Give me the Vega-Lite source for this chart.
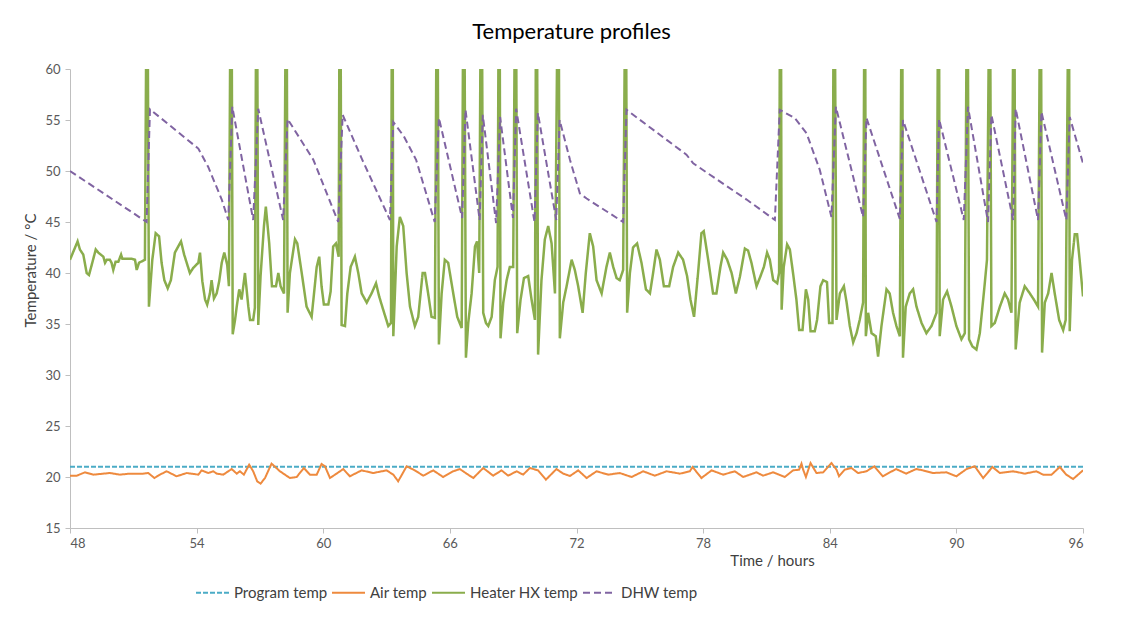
{
  "$schema": "https://vega.github.io/schema/vega-lite/v6.json",
  "autosize": "none",
  "width": 1013,
  "height": 459,
  "padding": {"left": 70, "top": 69, "right": 51, "bottom": 105},
  "background": "white",
  "config": {
    "view": {"stroke": null},
    "font": "Lato",
    "axis": {"labelFont": "Lato", "titleFont": "Lato", "labelColor": "#595959", "titleColor": "#404040", "domainColor": "#bfbfbf", "tickColor": "#bfbfbf", "grid": false, "labelFontSize": 13, "titleFontSize": 15, "titleFontWeight": "normal", "tickSize": 5},
    "legend": {"labelFont": "Lato", "labelFontSize": 15, "labelColor": "#404040"}
  },
  "title": {"text": "Temperature profiles", "fontSize": 22, "fontWeight": "normal", "font": "Lato", "color": "#000000", "anchor": "middle", "offset": 19, "dx": -5},
  "datasets": {
    "program": [
      {"s": "Program temp", "h": 48, "t": 21},
      {"s": "Program temp", "h": 96, "t": 21}
    ],
    "air": [
      {"s":"Air temp","h":48.00,"t":20.13},{"s":"Air temp","h":48.32,"t":20.13},{"s":"Air temp","h":48.71,"t":20.46},{"s":"Air temp","h":49.10,"t":20.23},{"s":"Air temp","h":49.89,"t":20.39},{"s":"Air temp","h":50.37,"t":20.23},{"s":"Air temp","h":50.84,"t":20.33},{"s":"Air temp","h":51.47,"t":20.33},{"s":"Air temp","h":51.71,"t":20.39},{"s":"Air temp","h":52.00,"t":19.90},{"s":"Air temp","h":52.26,"t":20.23},{"s":"Air temp","h":52.58,"t":20.56},{"s":"Air temp","h":53.05,"t":20.07},{"s":"Air temp","h":53.53,"t":20.39},{"s":"Air temp","h":54.08,"t":20.23},{"s":"Air temp","h":54.24,"t":20.65},{"s":"Air temp","h":54.55,"t":20.39},{"s":"Air temp","h":54.79,"t":20.56},{"s":"Air temp","h":54.95,"t":20.33},{"s":"Air temp","h":55.26,"t":20.23},{"s":"Air temp","h":55.66,"t":20.78},{"s":"Air temp","h":55.90,"t":20.33},{"s":"Air temp","h":56.05,"t":20.56},{"s":"Air temp","h":56.24,"t":20.23},{"s":"Air temp","h":56.49,"t":21.21},{"s":"Air temp","h":56.68,"t":20.56},{"s":"Air temp","h":56.87,"t":19.58},{"s":"Air temp","h":57.03,"t":19.35},{"s":"Air temp","h":57.24,"t":19.90},{"s":"Air temp","h":57.55,"t":21.31},{"s":"Air temp","h":57.95,"t":20.56},{"s":"Air temp","h":58.42,"t":19.90},{"s":"Air temp","h":58.74,"t":20.00},{"s":"Air temp","h":59.08,"t":20.88},{"s":"Air temp","h":59.37,"t":20.23},{"s":"Air temp","h":59.69,"t":20.23},{"s":"Air temp","h":59.92,"t":21.27},{"s":"Air temp","h":60.08,"t":21.05},{"s":"Air temp","h":60.32,"t":19.90},{"s":"Air temp","h":60.63,"t":20.33},{"s":"Air temp","h":60.95,"t":20.78},{"s":"Air temp","h":61.26,"t":20.07},{"s":"Air temp","h":61.82,"t":20.65},{"s":"Air temp","h":62.37,"t":20.39},{"s":"Air temp","h":63.00,"t":20.65},{"s":"Air temp","h":63.32,"t":20.23},{"s":"Air temp","h":63.55,"t":19.58},{"s":"Air temp","h":63.95,"t":21.05},{"s":"Air temp","h":64.34,"t":20.65},{"s":"Air temp","h":64.74,"t":20.13},{"s":"Air temp","h":65.21,"t":20.65},{"s":"Air temp","h":65.68,"t":20.00},{"s":"Air temp","h":66.16,"t":20.56},{"s":"Air temp","h":66.47,"t":20.78},{"s":"Air temp","h":66.63,"t":20.56},{"s":"Air temp","h":66.79,"t":20.33},{"s":"Air temp","h":67.11,"t":19.90},{"s":"Air temp","h":67.58,"t":20.88},{"s":"Air temp","h":68.05,"t":20.13},{"s":"Air temp","h":68.45,"t":20.65},{"s":"Air temp","h":68.76,"t":20.13},{"s":"Air temp","h":69.16,"t":20.56},{"s":"Air temp","h":69.47,"t":20.23},{"s":"Air temp","h":69.79,"t":20.88},{"s":"Air temp","h":70.18,"t":20.65},{"s":"Air temp","h":70.55,"t":19.74},{"s":"Air temp","h":71.05,"t":20.78},{"s":"Air temp","h":71.37,"t":20.33},{"s":"Air temp","h":71.69,"t":20.10},{"s":"Air temp","h":72.08,"t":20.65},{"s":"Air temp","h":72.48,"t":19.90},{"s":"Air temp","h":72.95,"t":20.56},{"s":"Air temp","h":73.50,"t":20.23},{"s":"Air temp","h":74.05,"t":20.39},{"s":"Air temp","h":74.61,"t":20.00},{"s":"Air temp","h":75.16,"t":20.56},{"s":"Air temp","h":75.71,"t":20.13},{"s":"Air temp","h":76.27,"t":20.56},{"s":"Air temp","h":76.90,"t":20.33},{"s":"Air temp","h":77.37,"t":20.56},{"s":"Air temp","h":77.50,"t":20.98},{"s":"Air temp","h":77.92,"t":19.90},{"s":"Air temp","h":78.40,"t":20.65},{"s":"Air temp","h":78.95,"t":20.23},{"s":"Air temp","h":79.50,"t":20.56},{"s":"Air temp","h":79.90,"t":20.00},{"s":"Air temp","h":80.53,"t":20.46},{"s":"Air temp","h":80.84,"t":20.13},{"s":"Air temp","h":81.32,"t":20.46},{"s":"Air temp","h":81.87,"t":20.00},{"s":"Air temp","h":82.26,"t":20.65},{"s":"Air temp","h":82.55,"t":20.72},{"s":"Air temp","h":82.66,"t":21.31},{"s":"Air temp","h":82.74,"t":20.72},{"s":"Air temp","h":82.87,"t":20.00},{"s":"Air temp","h":83.09,"t":21.37},{"s":"Air temp","h":83.37,"t":20.39},{"s":"Air temp","h":83.69,"t":20.46},{"s":"Air temp","h":84.08,"t":21.37},{"s":"Air temp","h":84.32,"t":20.72},{"s":"Air temp","h":84.44,"t":20.07},{"s":"Air temp","h":84.71,"t":20.72},{"s":"Air temp","h":85.03,"t":20.88},{"s":"Air temp","h":85.34,"t":20.39},{"s":"Air temp","h":85.74,"t":20.56},{"s":"Air temp","h":86.11,"t":21.05},{"s":"Air temp","h":86.51,"t":20.07},{"s":"Air temp","h":87.14,"t":20.78},{"s":"Air temp","h":87.62,"t":20.33},{"s":"Air temp","h":88.09,"t":20.78},{"s":"Air temp","h":88.42,"t":20.65},{"s":"Air temp","h":88.88,"t":20.39},{"s":"Air temp","h":89.53,"t":20.46},{"s":"Air temp","h":90.00,"t":20.07},{"s":"Air temp","h":90.48,"t":20.78},{"s":"Air temp","h":90.87,"t":21.05},{"s":"Air temp","h":91.27,"t":19.90},{"s":"Air temp","h":91.71,"t":20.98},{"s":"Air temp","h":92.06,"t":20.39},{"s":"Air temp","h":92.69,"t":20.56},{"s":"Air temp","h":93.24,"t":20.33},{"s":"Air temp","h":93.79,"t":20.56},{"s":"Air temp","h":94.11,"t":20.23},{"s":"Air temp","h":94.51,"t":20.23},{"s":"Air temp","h":94.90,"t":20.98},{"s":"Air temp","h":95.21,"t":20.23},{"s":"Air temp","h":95.53,"t":19.80},{"s":"Air temp","h":96.00,"t":20.65}
    ],
    "heater": [
      {"s":"Heater HX temp","h":48.00,"t":41.3},{"s":"Heater HX temp","h":48.16,"t":42.1},{"s":"Heater HX temp","h":48.36,"t":43.1},{"s":"Heater HX temp","h":48.47,"t":42.3},{"s":"Heater HX temp","h":48.63,"t":41.8},{"s":"Heater HX temp","h":48.79,"t":40.0},{"s":"Heater HX temp","h":48.90,"t":39.8},{"s":"Heater HX temp","h":49.03,"t":40.8},{"s":"Heater HX temp","h":49.22,"t":42.3},{"s":"Heater HX temp","h":49.34,"t":42.0},{"s":"Heater HX temp","h":49.58,"t":41.6},{"s":"Heater HX temp","h":49.66,"t":41.0},{"s":"Heater HX temp","h":49.74,"t":41.3},{"s":"Heater HX temp","h":49.89,"t":41.3},{"s":"Heater HX temp","h":49.97,"t":41.0},{"s":"Heater HX temp","h":50.05,"t":40.3},{"s":"Heater HX temp","h":50.16,"t":41.1},{"s":"Heater HX temp","h":50.29,"t":41.1},{"s":"Heater HX temp","h":50.42,"t":41.8},{"s":"Heater HX temp","h":50.48,"t":41.4},{"s":"Heater HX temp","h":50.92,"t":41.4},{"s":"Heater HX temp","h":51.08,"t":41.3},{"s":"Heater HX temp","h":51.16,"t":40.3},{"s":"Heater HX temp","h":51.27,"t":41.0},{"s":"Heater HX temp","h":51.55,"t":41.3},{"s":"Heater HX temp","h":51.62,"t":66},{"s":"Heater HX temp","h":51.68,"t":66},{"s":"Heater HX temp","h":51.74,"t":36.7},{"s":"Heater HX temp","h":51.90,"t":41.3},{"s":"Heater HX temp","h":52.06,"t":43.9},{"s":"Heater HX temp","h":52.22,"t":43.6},{"s":"Heater HX temp","h":52.34,"t":41.0},{"s":"Heater HX temp","h":52.47,"t":39.3},{"s":"Heater HX temp","h":52.63,"t":38.5},{"s":"Heater HX temp","h":52.78,"t":39.3},{"s":"Heater HX temp","h":52.97,"t":42.0},{"s":"Heater HX temp","h":53.26,"t":43.1},{"s":"Heater HX temp","h":53.41,"t":41.8},{"s":"Heater HX temp","h":53.53,"t":41.0},{"s":"Heater HX temp","h":53.68,"t":40.0},{"s":"Heater HX temp","h":53.84,"t":40.5},{"s":"Heater HX temp","h":54.08,"t":41.0},{"s":"Heater HX temp","h":54.16,"t":42.0},{"s":"Heater HX temp","h":54.27,"t":39.2},{"s":"Heater HX temp","h":54.40,"t":37.4},{"s":"Heater HX temp","h":54.50,"t":36.9},{"s":"Heater HX temp","h":54.63,"t":38.0},{"s":"Heater HX temp","h":54.71,"t":39.3},{"s":"Heater HX temp","h":54.82,"t":37.5},{"s":"Heater HX temp","h":54.95,"t":38.0},{"s":"Heater HX temp","h":55.07,"t":39.2},{"s":"Heater HX temp","h":55.19,"t":41.0},{"s":"Heater HX temp","h":55.31,"t":42.0},{"s":"Heater HX temp","h":55.45,"t":40.8},{"s":"Heater HX temp","h":55.53,"t":38.7},{"s":"Heater HX temp","h":55.60,"t":66},{"s":"Heater HX temp","h":55.66,"t":66},{"s":"Heater HX temp","h":55.71,"t":34.0},{"s":"Heater HX temp","h":55.82,"t":35.4},{"s":"Heater HX temp","h":55.90,"t":36.7},{"s":"Heater HX temp","h":56.02,"t":38.4},{"s":"Heater HX temp","h":56.13,"t":37.4},{"s":"Heater HX temp","h":56.29,"t":40.0},{"s":"Heater HX temp","h":56.45,"t":36.7},{"s":"Heater HX temp","h":56.53,"t":35.4},{"s":"Heater HX temp","h":56.68,"t":35.4},{"s":"Heater HX temp","h":56.76,"t":36.6},{"s":"Heater HX temp","h":56.82,"t":66},{"s":"Heater HX temp","h":56.87,"t":66},{"s":"Heater HX temp","h":56.92,"t":34.9},{"s":"Heater HX temp","h":57.03,"t":39.7},{"s":"Heater HX temp","h":57.19,"t":44.6},{"s":"Heater HX temp","h":57.28,"t":46.5},{"s":"Heater HX temp","h":57.44,"t":42.9},{"s":"Heater HX temp","h":57.57,"t":38.7},{"s":"Heater HX temp","h":57.76,"t":38.7},{"s":"Heater HX temp","h":57.87,"t":40.0},{"s":"Heater HX temp","h":57.98,"t":38.7},{"s":"Heater HX temp","h":58.14,"t":38.0},{"s":"Heater HX temp","h":58.22,"t":66},{"s":"Heater HX temp","h":58.27,"t":66},{"s":"Heater HX temp","h":58.31,"t":36.1},{"s":"Heater HX temp","h":58.42,"t":40.0},{"s":"Heater HX temp","h":58.66,"t":43.3},{"s":"Heater HX temp","h":58.77,"t":42.9},{"s":"Heater HX temp","h":58.98,"t":40.0},{"s":"Heater HX temp","h":59.21,"t":36.7},{"s":"Heater HX temp","h":59.45,"t":35.7},{"s":"Heater HX temp","h":59.69,"t":40.6},{"s":"Heater HX temp","h":59.81,"t":41.6},{"s":"Heater HX temp","h":59.92,"t":38.7},{"s":"Heater HX temp","h":60.03,"t":36.9},{"s":"Heater HX temp","h":60.24,"t":36.9},{"s":"Heater HX temp","h":60.35,"t":38.2},{"s":"Heater HX temp","h":60.47,"t":42.6},{"s":"Heater HX temp","h":60.60,"t":42.9},{"s":"Heater HX temp","h":60.73,"t":41.6},{"s":"Heater HX temp","h":60.77,"t":66},{"s":"Heater HX temp","h":60.82,"t":66},{"s":"Heater HX temp","h":60.87,"t":34.9},{"s":"Heater HX temp","h":61.03,"t":34.8},{"s":"Heater HX temp","h":61.14,"t":38.0},{"s":"Heater HX temp","h":61.30,"t":40.6},{"s":"Heater HX temp","h":61.50,"t":41.6},{"s":"Heater HX temp","h":61.66,"t":40.0},{"s":"Heater HX temp","h":61.82,"t":38.0},{"s":"Heater HX temp","h":62.06,"t":37.1},{"s":"Heater HX temp","h":62.29,"t":38.0},{"s":"Heater HX temp","h":62.50,"t":39.0},{"s":"Heater HX temp","h":62.65,"t":37.7},{"s":"Heater HX temp","h":62.84,"t":36.4},{"s":"Heater HX temp","h":63.08,"t":34.8},{"s":"Heater HX temp","h":63.21,"t":35.1},{"s":"Heater HX temp","h":63.25,"t":66},{"s":"Heater HX temp","h":63.29,"t":66},{"s":"Heater HX temp","h":63.32,"t":33.8},{"s":"Heater HX temp","h":63.48,"t":42.6},{"s":"Heater HX temp","h":63.63,"t":45.5},{"s":"Heater HX temp","h":63.79,"t":44.6},{"s":"Heater HX temp","h":63.95,"t":40.0},{"s":"Heater HX temp","h":64.11,"t":36.7},{"s":"Heater HX temp","h":64.34,"t":34.8},{"s":"Heater HX temp","h":64.50,"t":35.7},{"s":"Heater HX temp","h":64.71,"t":40.0},{"s":"Heater HX temp","h":64.82,"t":40.0},{"s":"Heater HX temp","h":64.97,"t":38.0},{"s":"Heater HX temp","h":65.13,"t":35.7},{"s":"Heater HX temp","h":65.29,"t":35.6},{"s":"Heater HX temp","h":65.37,"t":66},{"s":"Heater HX temp","h":65.42,"t":66},{"s":"Heater HX temp","h":65.48,"t":33.0},{"s":"Heater HX temp","h":65.61,"t":38.0},{"s":"Heater HX temp","h":65.76,"t":41.3},{"s":"Heater HX temp","h":65.92,"t":41.0},{"s":"Heater HX temp","h":66.16,"t":38.0},{"s":"Heater HX temp","h":66.35,"t":35.7},{"s":"Heater HX temp","h":66.56,"t":34.6},{"s":"Heater HX temp","h":66.63,"t":66},{"s":"Heater HX temp","h":66.69,"t":66},{"s":"Heater HX temp","h":66.76,"t":31.7},{"s":"Heater HX temp","h":66.87,"t":35.1},{"s":"Heater HX temp","h":67.03,"t":38.0},{"s":"Heater HX temp","h":67.19,"t":42.6},{"s":"Heater HX temp","h":67.29,"t":43.1},{"s":"Heater HX temp","h":67.39,"t":40.0},{"s":"Heater HX temp","h":67.46,"t":66},{"s":"Heater HX temp","h":67.52,"t":66},{"s":"Heater HX temp","h":67.58,"t":36.1},{"s":"Heater HX temp","h":67.71,"t":35.1},{"s":"Heater HX temp","h":67.82,"t":34.8},{"s":"Heater HX temp","h":67.98,"t":35.7},{"s":"Heater HX temp","h":68.13,"t":39.3},{"s":"Heater HX temp","h":68.26,"t":40.6},{"s":"Heater HX temp","h":68.31,"t":66},{"s":"Heater HX temp","h":68.36,"t":66},{"s":"Heater HX temp","h":68.40,"t":33.6},{"s":"Heater HX temp","h":68.53,"t":37.1},{"s":"Heater HX temp","h":68.69,"t":39.3},{"s":"Heater HX temp","h":68.84,"t":40.6},{"s":"Heater HX temp","h":69.00,"t":40.6},{"s":"Heater HX temp","h":69.08,"t":66},{"s":"Heater HX temp","h":69.14,"t":66},{"s":"Heater HX temp","h":69.19,"t":34.1},{"s":"Heater HX temp","h":69.35,"t":37.4},{"s":"Heater HX temp","h":69.51,"t":39.5},{"s":"Heater HX temp","h":69.71,"t":39.7},{"s":"Heater HX temp","h":69.87,"t":37.4},{"s":"Heater HX temp","h":70.03,"t":35.4},{"s":"Heater HX temp","h":70.08,"t":66},{"s":"Heater HX temp","h":70.13,"t":66},{"s":"Heater HX temp","h":70.18,"t":32.0},{"s":"Heater HX temp","h":70.34,"t":39.3},{"s":"Heater HX temp","h":70.50,"t":43.3},{"s":"Heater HX temp","h":70.66,"t":44.6},{"s":"Heater HX temp","h":70.82,"t":42.9},{"s":"Heater HX temp","h":70.98,"t":38.0},{"s":"Heater HX temp","h":71.10,"t":66},{"s":"Heater HX temp","h":71.16,"t":66},{"s":"Heater HX temp","h":71.21,"t":33.6},{"s":"Heater HX temp","h":71.37,"t":37.1},{"s":"Heater HX temp","h":71.53,"t":38.7},{"s":"Heater HX temp","h":71.77,"t":41.3},{"s":"Heater HX temp","h":71.92,"t":40.3},{"s":"Heater HX temp","h":72.08,"t":38.7},{"s":"Heater HX temp","h":72.29,"t":36.1},{"s":"Heater HX temp","h":72.44,"t":40.0},{"s":"Heater HX temp","h":72.63,"t":43.9},{"s":"Heater HX temp","h":72.79,"t":42.6},{"s":"Heater HX temp","h":72.95,"t":39.3},{"s":"Heater HX temp","h":73.19,"t":38.0},{"s":"Heater HX temp","h":73.42,"t":40.6},{"s":"Heater HX temp","h":73.58,"t":42.0},{"s":"Heater HX temp","h":73.74,"t":40.6},{"s":"Heater HX temp","h":73.90,"t":39.5},{"s":"Heater HX temp","h":74.05,"t":39.3},{"s":"Heater HX temp","h":74.21,"t":40.3},{"s":"Heater HX temp","h":74.30,"t":66},{"s":"Heater HX temp","h":74.35,"t":66},{"s":"Heater HX temp","h":74.40,"t":36.1},{"s":"Heater HX temp","h":74.53,"t":40.0},{"s":"Heater HX temp","h":74.68,"t":42.5},{"s":"Heater HX temp","h":74.87,"t":42.9},{"s":"Heater HX temp","h":75.08,"t":41.0},{"s":"Heater HX temp","h":75.29,"t":38.4},{"s":"Heater HX temp","h":75.48,"t":38.0},{"s":"Heater HX temp","h":75.63,"t":40.0},{"s":"Heater HX temp","h":75.79,"t":42.3},{"s":"Heater HX temp","h":75.95,"t":41.3},{"s":"Heater HX temp","h":76.14,"t":38.7},{"s":"Heater HX temp","h":76.39,"t":38.7},{"s":"Heater HX temp","h":76.58,"t":40.6},{"s":"Heater HX temp","h":76.82,"t":42.0},{"s":"Heater HX temp","h":77.05,"t":41.3},{"s":"Heater HX temp","h":77.24,"t":39.7},{"s":"Heater HX temp","h":77.40,"t":37.4},{"s":"Heater HX temp","h":77.57,"t":35.7},{"s":"Heater HX temp","h":77.76,"t":40.0},{"s":"Heater HX temp","h":77.92,"t":43.9},{"s":"Heater HX temp","h":78.03,"t":44.1},{"s":"Heater HX temp","h":78.24,"t":41.3},{"s":"Heater HX temp","h":78.47,"t":38.0},{"s":"Heater HX temp","h":78.63,"t":38.0},{"s":"Heater HX temp","h":78.82,"t":40.6},{"s":"Heater HX temp","h":78.95,"t":42.0},{"s":"Heater HX temp","h":79.14,"t":41.3},{"s":"Heater HX temp","h":79.35,"t":40.0},{"s":"Heater HX temp","h":79.55,"t":38.0},{"s":"Heater HX temp","h":79.74,"t":39.6},{"s":"Heater HX temp","h":79.98,"t":42.4},{"s":"Heater HX temp","h":80.13,"t":42.2},{"s":"Heater HX temp","h":80.29,"t":41.0},{"s":"Heater HX temp","h":80.53,"t":38.7},{"s":"Heater HX temp","h":80.72,"t":39.7},{"s":"Heater HX temp","h":80.88,"t":40.6},{"s":"Heater HX temp","h":81.03,"t":42.0},{"s":"Heater HX temp","h":81.16,"t":41.3},{"s":"Heater HX temp","h":81.32,"t":39.3},{"s":"Heater HX temp","h":81.51,"t":39.0},{"s":"Heater HX temp","h":81.60,"t":40.0},{"s":"Heater HX temp","h":81.64,"t":66},{"s":"Heater HX temp","h":81.69,"t":66},{"s":"Heater HX temp","h":81.72,"t":36.4},{"s":"Heater HX temp","h":81.82,"t":40.6},{"s":"Heater HX temp","h":81.98,"t":42.8},{"s":"Heater HX temp","h":82.11,"t":42.3},{"s":"Heater HX temp","h":82.26,"t":40.0},{"s":"Heater HX temp","h":82.42,"t":37.4},{"s":"Heater HX temp","h":82.55,"t":34.4},{"s":"Heater HX temp","h":82.71,"t":34.4},{"s":"Heater HX temp","h":82.87,"t":38.4},{"s":"Heater HX temp","h":82.98,"t":37.4},{"s":"Heater HX temp","h":83.09,"t":34.3},{"s":"Heater HX temp","h":83.29,"t":34.3},{"s":"Heater HX temp","h":83.40,"t":35.4},{"s":"Heater HX temp","h":83.56,"t":38.7},{"s":"Heater HX temp","h":83.69,"t":39.3},{"s":"Heater HX temp","h":83.87,"t":39.1},{"s":"Heater HX temp","h":83.97,"t":35.1},{"s":"Heater HX temp","h":84.13,"t":35.1},{"s":"Heater HX temp","h":84.18,"t":66},{"s":"Heater HX temp","h":84.24,"t":66},{"s":"Heater HX temp","h":84.32,"t":35.4},{"s":"Heater HX temp","h":84.48,"t":38.0},{"s":"Heater HX temp","h":84.67,"t":38.7},{"s":"Heater HX temp","h":84.80,"t":37.1},{"s":"Heater HX temp","h":84.95,"t":34.8},{"s":"Heater HX temp","h":85.11,"t":33.2},{"s":"Heater HX temp","h":85.27,"t":34.1},{"s":"Heater HX temp","h":85.42,"t":35.4},{"s":"Heater HX temp","h":85.58,"t":37.1},{"s":"Heater HX temp","h":85.64,"t":66},{"s":"Heater HX temp","h":85.68,"t":66},{"s":"Heater HX temp","h":85.71,"t":33.8},{"s":"Heater HX temp","h":85.82,"t":36.1},{"s":"Heater HX temp","h":85.98,"t":34.1},{"s":"Heater HX temp","h":86.18,"t":33.8},{"s":"Heater HX temp","h":86.29,"t":31.8},{"s":"Heater HX temp","h":86.45,"t":34.8},{"s":"Heater HX temp","h":86.69,"t":38.4},{"s":"Heater HX temp","h":86.84,"t":38.0},{"s":"Heater HX temp","h":87.00,"t":36.1},{"s":"Heater HX temp","h":87.16,"t":34.8},{"s":"Heater HX temp","h":87.32,"t":33.8},{"s":"Heater HX temp","h":87.40,"t":66},{"s":"Heater HX temp","h":87.44,"t":66},{"s":"Heater HX temp","h":87.47,"t":31.7},{"s":"Heater HX temp","h":87.60,"t":36.7},{"s":"Heater HX temp","h":87.79,"t":38.0},{"s":"Heater HX temp","h":87.95,"t":38.4},{"s":"Heater HX temp","h":88.11,"t":36.7},{"s":"Heater HX temp","h":88.35,"t":35.1},{"s":"Heater HX temp","h":88.58,"t":34.1},{"s":"Heater HX temp","h":88.82,"t":34.8},{"s":"Heater HX temp","h":89.06,"t":36.1},{"s":"Heater HX temp","h":89.13,"t":66},{"s":"Heater HX temp","h":89.18,"t":66},{"s":"Heater HX temp","h":89.21,"t":33.8},{"s":"Heater HX temp","h":89.37,"t":37.4},{"s":"Heater HX temp","h":89.56,"t":38.2},{"s":"Heater HX temp","h":89.77,"t":36.7},{"s":"Heater HX temp","h":90.00,"t":34.8},{"s":"Heater HX temp","h":90.24,"t":33.5},{"s":"Heater HX temp","h":90.40,"t":34.1},{"s":"Heater HX temp","h":90.49,"t":66},{"s":"Heater HX temp","h":90.54,"t":66},{"s":"Heater HX temp","h":90.60,"t":33.5},{"s":"Heater HX temp","h":90.76,"t":32.8},{"s":"Heater HX temp","h":90.95,"t":32.5},{"s":"Heater HX temp","h":91.11,"t":34.1},{"s":"Heater HX temp","h":91.30,"t":38.0},{"s":"Heater HX temp","h":91.45,"t":41.3},{"s":"Heater HX temp","h":91.55,"t":66},{"s":"Heater HX temp","h":91.60,"t":66},{"s":"Heater HX temp","h":91.66,"t":34.8},{"s":"Heater HX temp","h":91.82,"t":35.1},{"s":"Heater HX temp","h":92.06,"t":36.7},{"s":"Heater HX temp","h":92.29,"t":38.0},{"s":"Heater HX temp","h":92.45,"t":37.4},{"s":"Heater HX temp","h":92.61,"t":36.1},{"s":"Heater HX temp","h":92.70,"t":66},{"s":"Heater HX temp","h":92.75,"t":66},{"s":"Heater HX temp","h":92.81,"t":32.5},{"s":"Heater HX temp","h":93.00,"t":37.1},{"s":"Heater HX temp","h":93.24,"t":38.7},{"s":"Heater HX temp","h":93.48,"t":38.0},{"s":"Heater HX temp","h":93.67,"t":37.4},{"s":"Heater HX temp","h":93.87,"t":36.7},{"s":"Heater HX temp","h":93.96,"t":66},{"s":"Heater HX temp","h":94.01,"t":66},{"s":"Heater HX temp","h":94.06,"t":32.2},{"s":"Heater HX temp","h":94.19,"t":37.1},{"s":"Heater HX temp","h":94.35,"t":38.0},{"s":"Heater HX temp","h":94.51,"t":40.0},{"s":"Heater HX temp","h":94.66,"t":38.0},{"s":"Heater HX temp","h":94.87,"t":35.4},{"s":"Heater HX temp","h":95.06,"t":34.4},{"s":"Heater HX temp","h":95.18,"t":35.4},{"s":"Heater HX temp","h":95.30,"t":66},{"s":"Heater HX temp","h":95.34,"t":66},{"s":"Heater HX temp","h":95.37,"t":34.3},{"s":"Heater HX temp","h":95.48,"t":41.3},{"s":"Heater HX temp","h":95.61,"t":43.8},{"s":"Heater HX temp","h":95.72,"t":43.8},{"s":"Heater HX temp","h":95.84,"t":41.3},{"s":"Heater HX temp","h":96.00,"t":37.7}
    ],
    "dhw": [
      {"s":"DHW temp","h":48.00,"t":50.0},{"s":"DHW temp","h":51.63,"t":45.0},{"s":"DHW temp","h":51.79,"t":56.05},{"s":"DHW temp","h":54.08,"t":52.2},{"s":"DHW temp","h":54.55,"t":50.4},{"s":"DHW temp","h":55.19,"t":47.2},{"s":"DHW temp","h":55.50,"t":45.2},{"s":"DHW temp","h":55.69,"t":56.3},{"s":"DHW temp","h":56.68,"t":45.2},{"s":"DHW temp","h":56.92,"t":56.1},{"s":"DHW temp","h":58.10,"t":45.2},{"s":"DHW temp","h":58.31,"t":55.1},{"s":"DHW temp","h":59.53,"t":51.1},{"s":"DHW temp","h":60.71,"t":45.0},{"s":"DHW temp","h":60.92,"t":55.5},{"s":"DHW temp","h":61.85,"t":51.1},{"s":"DHW temp","h":63.16,"t":45.2},{"s":"DHW temp","h":63.32,"t":54.8},{"s":"DHW temp","h":63.82,"t":53.4},{"s":"DHW temp","h":64.40,"t":51.1},{"s":"DHW temp","h":65.28,"t":45.0},{"s":"DHW temp","h":65.48,"t":55.2},{"s":"DHW temp","h":66.58,"t":45.4},{"s":"DHW temp","h":66.74,"t":56.0},{"s":"DHW temp","h":67.41,"t":45.2},{"s":"DHW temp","h":67.56,"t":55.5},{"s":"DHW temp","h":68.19,"t":44.9},{"s":"DHW temp","h":68.38,"t":55.3},{"s":"DHW temp","h":68.99,"t":45.4},{"s":"DHW temp","h":69.14,"t":56.1},{"s":"DHW temp","h":70.01,"t":45.0},{"s":"DHW temp","h":70.17,"t":55.7},{"s":"DHW temp","h":71.04,"t":45.2},{"s":"DHW temp","h":71.20,"t":55.0},{"s":"DHW temp","h":71.69,"t":51.1},{"s":"DHW temp","h":72.16,"t":47.8},{"s":"DHW temp","h":72.48,"t":47.3},{"s":"DHW temp","h":74.21,"t":45.0},{"s":"DHW temp","h":74.37,"t":56.0},{"s":"DHW temp","h":77.21,"t":51.6},{"s":"DHW temp","h":77.53,"t":50.75},{"s":"DHW temp","h":80.06,"t":47.2},{"s":"DHW temp","h":81.40,"t":45.2},{"s":"DHW temp","h":81.63,"t":56.0},{"s":"DHW temp","h":82.34,"t":55.2},{"s":"DHW temp","h":82.90,"t":53.7},{"s":"DHW temp","h":83.53,"t":50.1},{"s":"DHW temp","h":84.08,"t":45.5},{"s":"DHW temp","h":84.29,"t":56.3},{"s":"DHW temp","h":85.58,"t":45.5},{"s":"DHW temp","h":85.74,"t":55.2},{"s":"DHW temp","h":87.32,"t":45.3},{"s":"DHW temp","h":87.47,"t":55.0},{"s":"DHW temp","h":89.06,"t":45.0},{"s":"DHW temp","h":89.18,"t":55.1},{"s":"DHW temp","h":90.35,"t":45.2},{"s":"DHW temp","h":90.55,"t":56.3},{"s":"DHW temp","h":91.50,"t":45.0},{"s":"DHW temp","h":91.66,"t":55.5},{"s":"DHW temp","h":92.69,"t":45.2},{"s":"DHW temp","h":92.81,"t":56.1},{"s":"DHW temp","h":93.87,"t":45.2},{"s":"DHW temp","h":94.03,"t":55.8},{"s":"DHW temp","h":95.21,"t":45.2},{"s":"DHW temp","h":95.37,"t":55.3},{"s":"DHW temp","h":96.00,"t":50.75}
    ]
  },
  "encoding": {
    "x": {"field": "h", "type": "quantitative", "title": "Time / hours",
      "scale": {"domain": [48, 96], "nice": false, "zero": false},
      "axis": {"values": [48, 54, 60, 66, 72, 78, 84, 90, 96], "labelPadding": 4, "titleX": 702, "titleY": 32, "titleBaseline": "middle", "titleAnchor": null, "titleAlign": "center"}},
    "y": {"field": "t", "type": "quantitative", "title": "Temperature / °C",
      "scale": {"domain": [15, 60], "nice": false, "zero": false},
      "axis": {"values": [15, 20, 25, 30, 35, 40, 45, 50, 55, 60], "labelPadding": 5, "titleX": -40, "titleY": 201, "titleAngle": -90, "titleBaseline": "middle", "titleAlign": "center"}},
    "color": {"field": "s", "type": "nominal", "title": null,
      "scale": {"domain": ["Program temp", "Air temp", "Heater HX temp", "DHW temp"], "range": ["#4bacc6", "#ee8a3e", "#8aad4c", "#8064a2"]},
      "legend": {"orient": "none", "legendX": 125, "legendY": 506, "direction": "horizontal", "columns": 4, "symbolType": "stroke", "symbolSize": 1089, "symbolStrokeWidth": 2, "columnPadding": 0, "labelOffset": 4, "title": null}},
    "strokeDash": {"field": "s", "type": "nominal", "title": null,
      "scale": {"domain": ["Program temp", "Air temp", "Heater HX temp", "DHW temp"], "range": [[5, 2], [1, 0], [1, 0], [7, 4]]},
      "legend": {"orient": "none", "legendX": 125, "legendY": 506, "direction": "horizontal", "columns": 4, "symbolType": "stroke", "symbolSize": 1089, "symbolStrokeWidth": 2, "columnPadding": 0, "labelOffset": 4, "title": null}}
  },
  "layer": [
    {"data": {"name": "program"}, "mark": {"type": "line", "strokeWidth": 2, "clip": true}},
    {"data": {"name": "air"}, "mark": {"type": "line", "strokeWidth": 2, "clip": true}},
    {"data": {"name": "heater"}, "mark": {"type": "line", "strokeWidth": 2.5, "clip": true}},
    {"data": {"name": "dhw"}, "mark": {"type": "line", "strokeWidth": 2, "clip": true}}
  ]
}
